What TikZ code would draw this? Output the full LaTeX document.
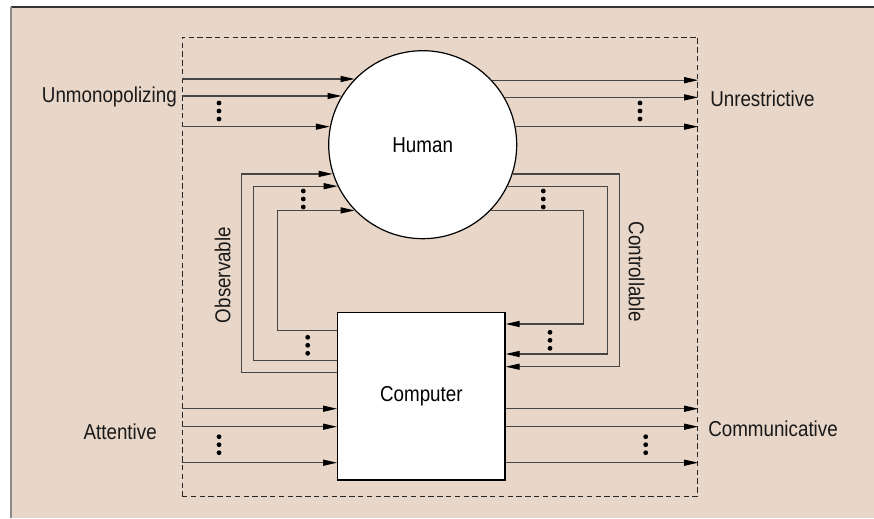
\documentclass[tikz,border=0pt]{standalone}
\usepackage{fontspec}
\setmainfont[FakeStretch=0.87]{Liberation Sans}
\usetikzlibrary{arrows.meta,fit}
\definecolor{bgbeige}{RGB}{232,214,200}
\definecolor{linegray}{RGB}{70,70,70}
\begin{document}
\begin{tikzpicture}[x=0.75pt,y=-0.75pt,
  every node/.style={font=\fontsize{16.2}{19}\selectfont},
  conn/.style={draw=linegray,line width=0.9pt},
  arr/.style={conn,-{Triangle[length=10.5pt,width=4.5pt,black]}},
  dotmark/.style={circle,fill=black,inner sep=0pt,minimum size=3.6pt},
  lbl/.style={inner sep=0pt,text=black!90}]
\useasboundingbox (0,0) rectangle (874,518);
\fill[white] (0,0) rectangle (874,518);
\fill[bgbeige] (11,7) rectangle (874,518);
\draw[line width=1.1pt,black!80] (11,7) -- (874,7);
\draw[line width=1.4pt,black!45] (11,7) -- (11,518);
% system boundary
\node[fit={(182,37) (697.7,496)},inner sep=0pt,draw=black!85,line width=0.75pt,dash pattern=on 4pt off 2.6pt] (sys) {};
% main nodes
\node[circle,draw=black,line width=0.9pt,fill=white,minimum size=141pt,inner sep=0pt] (human) at (422.7,144.7) {Human};
\node[draw=black,line width=0.9pt,fill=white,minimum width=125.5pt,minimum height=125.5pt,inner sep=0pt] (comp) at (421.35,396.35) {Computer};
% labels
\node[lbl,anchor=east] (lunmon) at (177,97) {Unmonopolizing};
\node[lbl,anchor=west] (lunres) at (710,99) {Unrestrictive};
\node[lbl,anchor=east] (latt) at (157,432) {Attentive};
\node[lbl,anchor=west] (lcomm) at (708,429) {Communicative};
\node[lbl,rotate=90] (lobs) at (222.7,275) {Observable};
\node[lbl,rotate=-90] (lctrl) at (636.7,271.7) {Controllable};
% inputs to human
\foreach \a in {136.5,149.7,169.0}
  \draw[arr] (sys.west |- human.\a) -- (human.\a);
% outputs from human
\foreach \a in {43.5,30.3,11.0}
  \draw[arr] (human.\a) -- (sys.east |- human.\a);
% inputs to computer
\foreach \yy in {408.7,426.7,462.7}
  \draw[arr] (sys.west |- 0,\yy) -- (comp.west |- 0,\yy);
% outputs from computer
\foreach \yy in {408.7,426.7,462.7}
  \draw[arr] (comp.east |- 0,\yy) -- (sys.east |- 0,\yy);
% observable feedback (computer -> human)
\draw[arr] (comp.west |- 0,372.3) -- (241.7,372.3) |- (human.198.5);
\draw[arr] (comp.west |- 0,360.7) -- (253.3,360.7) |- (human.206.4);
\draw[arr] (comp.west |- 0,330.7) -- (277.3,330.7) |- (human.224.6);
% controllable feedback (human -> computer)
\draw[arr] (human.-18.5) -| (619.3,366.7) -- (comp.east |- 0,366.7);
\draw[arr] (human.-26.4) -| (607.3,354) -- (comp.east |- 0,354);
\draw[arr] (human.-44.6) -| (583.3,324) -- (comp.east |- 0,324);
% ellipsis dots
\foreach \px/\py [count=\i] in {219/111,640/111,303.3/199,307.7/345.3,543.3/199,550/340.3,219/444.7,645.7/444.7}{
  \node[dotmark] (d\i a) at (\px,\py-8) {};
  \node[dotmark] (d\i b) at (\px,\py) {};
  \node[dotmark] (d\i c) at (\px,\py+8) {};
}
\end{tikzpicture}
\end{document}
